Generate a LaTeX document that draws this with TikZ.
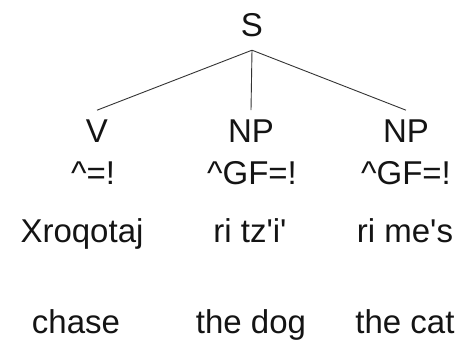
\documentclass[tikz,border=0pt]{standalone}
\usepackage{fontspec}
\setmainfont{Liberation Sans}
\begin{document}
\begin{tikzpicture}[x=1pt,y=-1pt,
  lab/.style={anchor=base, inner sep=0pt, font=\fontsize{33}{40}\selectfont, text=black!92},
  cat/.style={lab, inner ysep=9pt, text height=23.6pt},
  root/.style={lab, inner ysep=13pt, text depth=0pt},
  branch/.style={draw=black!80, line width=0.9pt}]
\useasboundingbox (0,0) rectangle (460,347);
\node[root] (S) at (252,37) {S};
\node[cat] (V) at (97,143) {V};
\node[cat] (NP1) at (251,143) {NP};
\node[cat] (NP2) at (406,143) {NP};
\node[lab] (f1) at (93,185) {\textasciicircum=!};
\node[lab] (f2) at (252,185) {\textasciicircum GF=!};
\node[lab] (f3) at (406,185) {\textasciicircum GF=!};
\node[lab] (w1) at (82,243) {Xroqotaj};
\node[lab] (w2) at (250,243) {ri tz\textquotesingle i\textquotesingle};
\node[lab] (w3) at (405,243) {ri me\textquotesingle s};
\node[lab] (g1) at (76,333) {chase};
\node[lab] (g2) at (251,333) {the dog};
\node[lab] (g3) at (405,333) {the cat};
\draw[branch] (S.south) -- (V.north);
\draw[branch] (S.south) -- (NP1.north);
\draw[branch] (S.south) -- (NP2.north);
\end{tikzpicture}
\end{document}
